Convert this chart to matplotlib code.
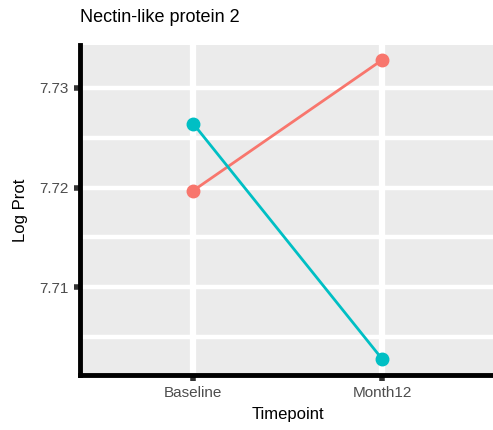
import matplotlib
matplotlib.use("Agg")
import matplotlib.pyplot as plt

plt.rcParams['font.family'] = ['Liberation Sans', 'DejaVu Sans']

timepoints = ["Baseline", "Month12"]
group_a = [7.7197, 7.7328]   # red
group_b = [7.7264, 7.7028]   # teal
y_ticks = [7.71, 7.72, 7.73]
y_minor = [7.705, 7.715, 7.725]

fig = plt.figure(figsize=(4.93, 4.30), dpi=100)
ax = fig.add_axes([80/493, 1-375/430, 1-80/493 + 0.005, (375-45)/430])
ax.set_facecolor("#EBEBEB")
x = list(range(1, len(timepoints)+1))

ax.set_xlim(0.4, 2.6)
ax.set_ylim(7.7012, 7.7343)

for yv in y_ticks + y_minor:
    ax.axhline(yv, color="white", lw=3.2, zorder=1)
for xv in x:
    ax.axvline(xv, color="white", lw=4.5, zorder=1)

ax.plot(x, group_a, color="#F8766D", lw=2, marker="o", ms=9, zorder=3)
ax.plot(x, group_b, color="#00BFC4", lw=2, marker="o", ms=9, zorder=3)

ax.set_xticks(x)
ax.set_xticklabels(timepoints)
ax.set_yticks(y_ticks)
ax.set_yticklabels([f"{v:.2f}" for v in y_ticks])
ax.tick_params(axis="both", colors="#333333", length=4, width=4, labelcolor="#4D4D4D", labelsize=11, pad=4)

for s in ["top", "right"]:
    ax.spines[s].set_visible(False)
for s in ["left", "bottom"]:
    ax.spines[s].set_linewidth(3.5)
    ax.spines[s].set_color("black")

ax.set_xlabel("Timepoint", fontsize=12, labelpad=5)
ax.set_ylabel("Log Prot", fontsize=12, labelpad=8)
fig.text(80/493, 1-18/430, "Nectin-like protein 2", fontsize=13, va="center", ha="left")

fig.savefig("out.png", dpi=100)
